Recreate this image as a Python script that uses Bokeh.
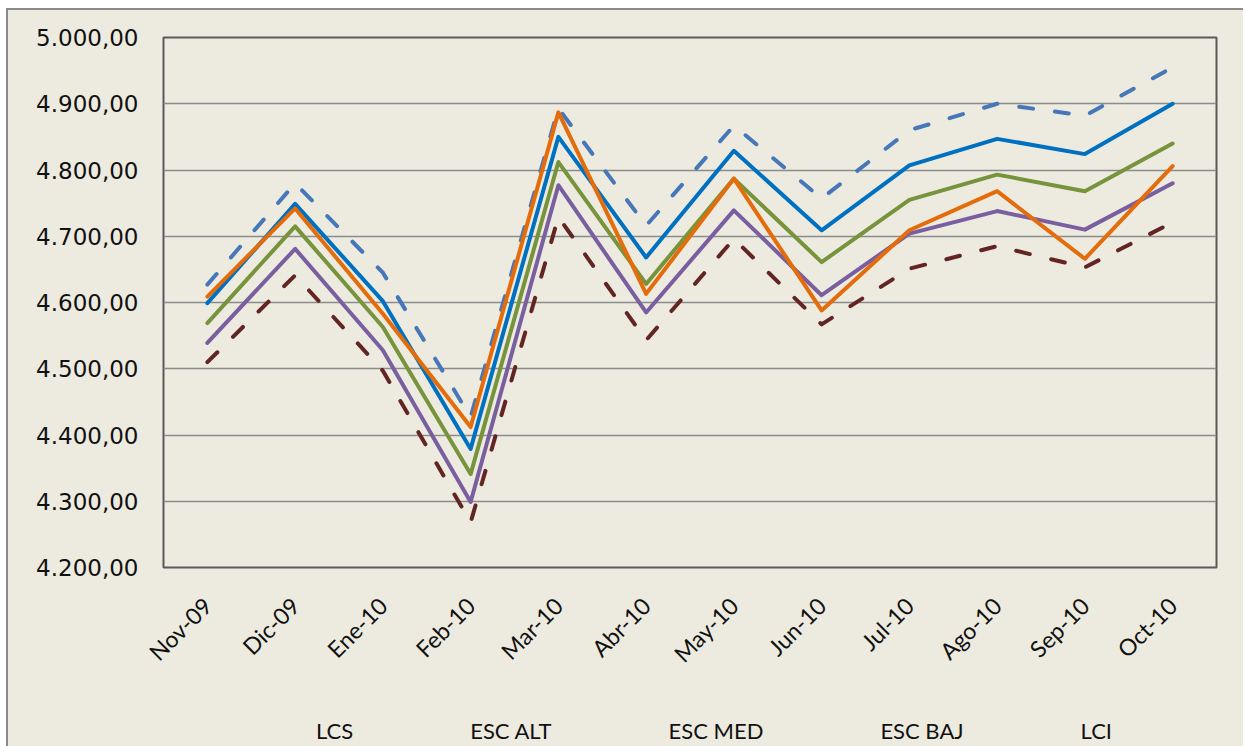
from bokeh.plotting import figure
from bokeh.layouts import column
from bokeh.models import FactorRange, Range1d, FixedTicker, Legend, LegendItem
from bokeh.embed import file_html
from bokeh.resources import INLINE
import math

months = ["Nov-09", "Dic-09", "Ene-10", "Feb-10", "Mar-10", "Abr-10",
          "May-10", "Jun-10", "Jul-10", "Ago-10", "Sep-10", "Oct-10"]

lcs     = [4627, 4780, 4645, 4427, 4893, 4716, 4867, 4757, 4860, 4900, 4882, 4955]
esc_alt = [4599, 4749, 4602, 4379, 4850, 4668, 4829, 4709, 4807, 4847, 4824, 4900]
esc_med = [4569, 4715, 4563, 4341, 4812, 4628, 4787, 4661, 4755, 4793, 4768, 4840]
esc_baj = [4539, 4681, 4528, 4299, 4777, 4585, 4739, 4611, 4704, 4738, 4710, 4780]
lci     = [4510, 4641, 4497, 4268, 4729, 4543, 4696, 4567, 4651, 4685, 4653, 4721]
dee     = [4609, 4742, 4583, 4412, 4887, 4613, 4787, 4588, 4709, 4768, 4666, 4806]

ytick_values = [4200, 4300, 4400, 4500, 4600, 4700, 4800, 4900, 5000]
ytick_labels = ["4.200,00", "4.300,00", "4.400,00", "4.500,00", "4.600,00",
                "4.700,00", "4.800,00", "4.900,00", "5.000,00"]

series = [
    ("LCS", lcs, "#4677B8", "14 22"),
    ("ESC ALT", esc_alt, "#0070C0", "solid"),
    ("ESC MED", esc_med, "#77933C", "solid"),
    ("ESC BAJ", esc_baj, "#7A5FA0", "solid"),
    ("LCI", lci, "#632523", "14 22"),
    ("DEE Real", dee, "#E46C0A", "solid"),
]

BG = "#EDEBE0"

# ---- main chart ----
p = figure(frame_width=1053, frame_height=530, output_backend="svg", toolbar_location=None,
           x_range=FactorRange(*months), y_range=Range1d(4200, 5000),
           min_border_left=155, min_border_top=27, min_border_right=27,
           min_border_bottom=100)
p.background_fill_color = BG
p.border_fill_color = BG
p.outline_line_color = "#595959"
p.outline_line_width = 2

p.xgrid.grid_line_color = None
p.ygrid.grid_line_color = "#8C8C8C"
p.ygrid.grid_line_width = 1.5

p.yaxis.ticker = FixedTicker(ticks=ytick_values)
p.yaxis.major_label_overrides = {v: l for v, l in zip(ytick_values, ytick_labels)}
p.yaxis.axis_line_color = None
p.yaxis.major_tick_line_color = None
p.yaxis.minor_tick_line_color = None
p.yaxis.major_label_standoff = 19
p.yaxis.major_label_text_font = "DejaVu Sans"
p.yaxis.major_label_text_font_size = "23px"
p.yaxis.major_label_text_color = "#111111"

p.xaxis.axis_line_color = None
p.xaxis.major_tick_line_color = None
p.xaxis.major_label_orientation = math.pi / 4
p.xaxis.major_label_standoff = 28
p.xaxis.major_label_text_font = "Lato"
p.xaxis.major_label_text_font_size = "23px"
p.xaxis.major_label_text_color = "#111111"

for name, vals, color, dash in series:
    p.line(months, vals, line_color=color, line_width=4, line_dash=dash,
           line_cap="round", line_join="round")

# ---- legend strip (separate small figure so nothing is clipped) ----
lg = figure(width=1235, height=72, output_backend="svg", toolbar_location=None,
            x_range=Range1d(0, 1), y_range=Range1d(0, 1),
            x_axis_location=None, y_axis_location=None,
            min_border_left=0, min_border_right=0, min_border_top=0, min_border_bottom=0)
lg.background_fill_color = BG
lg.border_fill_color = BG
lg.outline_line_color = None
lg.xgrid.grid_line_color = None
lg.ygrid.grid_line_color = None

items = []
for name, vals, color, dash in series:
    r = lg.line(x=[], y=[], line_color=color, line_width=4, line_dash=dash,
                line_cap="round", line_join="round")
    items.append(LegendItem(label=name, renderers=[r]))

legend = Legend(items=items, orientation="horizontal", location=(81, 8))
legend.background_fill_alpha = 0
legend.border_line_color = None
legend.glyph_width = 62
legend.glyph_height = 20
legend.label_standoff = 10
legend.spacing = 45
legend.margin = 0
legend.padding = 6
legend.label_text_font = "Lato"
legend.label_text_font_size = "22px"
legend.label_text_color = "#111111"
lg.add_layout(legend, "center")

layout = column(p, lg, spacing=0,
                styles={"margin-left": "6px", "margin-top": "8px",
                        "border-top": "2px solid #8A8A8A",
                        "border-left": "2px solid #8A8A8A",
                        "background-color": BG})

open("out.html", "w").write(file_html(layout, INLINE))
